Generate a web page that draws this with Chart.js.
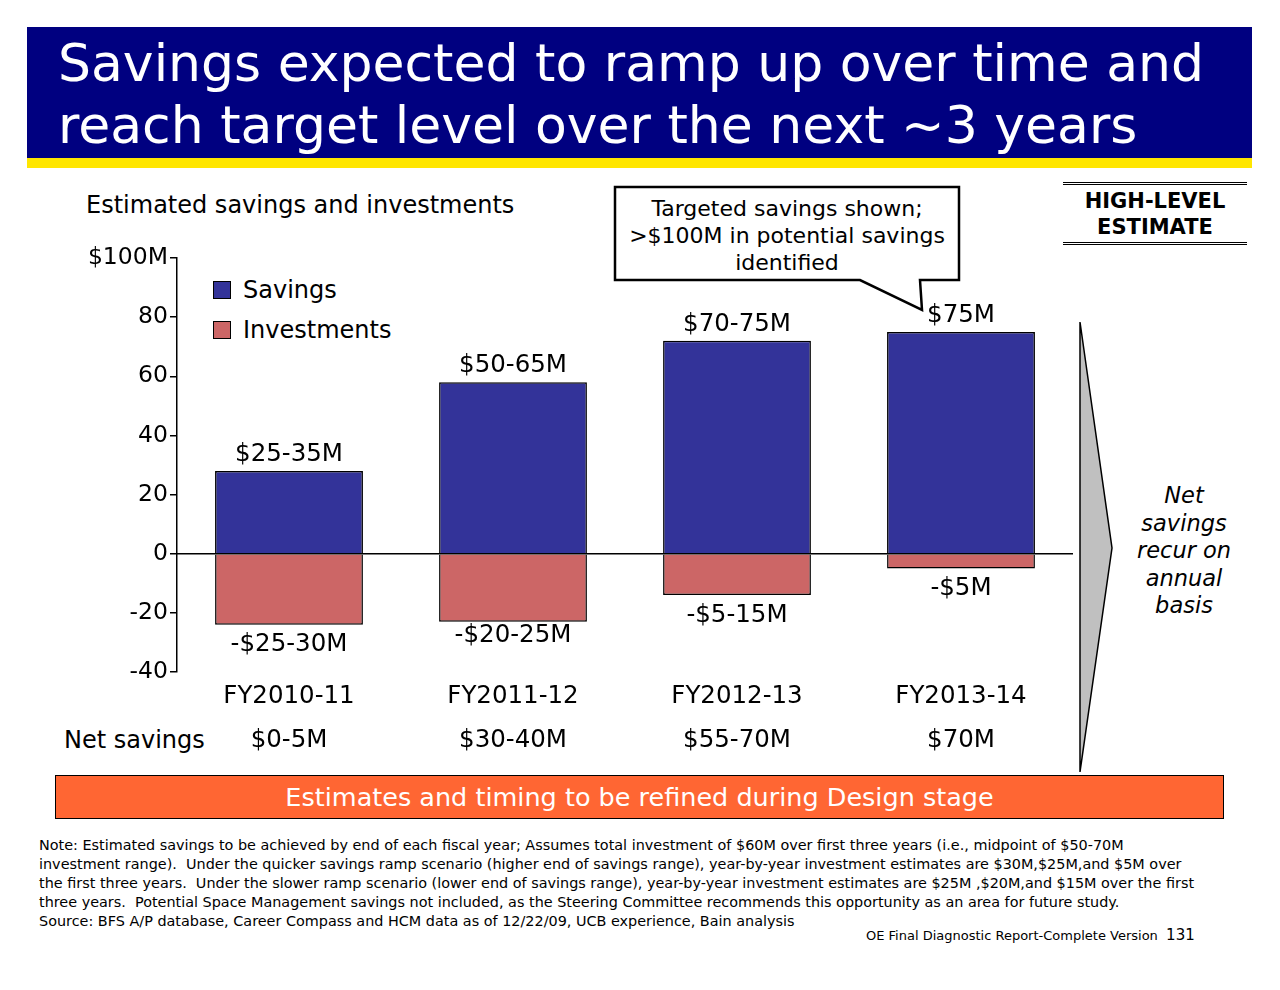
<!DOCTYPE html>
<html><head><meta charset="utf-8">
<script src="https://cdn.jsdelivr.net/npm/chart.js@4"></script>
<style>
body{margin:0;width:1280px;height:990px;background:#fff;font-family:"DejaVu Sans",Verdana,sans-serif;position:relative;overflow:hidden}
.a{position:absolute}
</style></head><body>
<div class="a" style="left:27px;top:27px;width:1225px;height:131px;background:#000080"></div>
<div class="a" style="left:27px;top:158px;width:1225px;height:10px;background:#FFE600"></div>
<div class="a" style="left:58px;top:32px;color:#fff;font-size:52px;line-height:62px;font-family:'DejaVu Sans'">Savings expected to ramp up over time and<br>reach target level over the next ~3 years</div>
<div class="a" style="left:86px;top:191px;font-size:24px">Estimated savings and investments</div>
<div class="a" style="left:1063px;top:182px;width:184px;border-top:3px double #000;border-bottom:3px double #000;text-align:center;font-weight:bold;font-size:21px;line-height:26px;padding:3px 0 2px">HIGH-LEVEL<br>ESTIMATE</div>
<svg class="a" style="left:0;top:0" width="1280" height="990">
<polygon points="615,187 959,187 959,280 920,280 922,310 860,280 615,280" fill="#fff" stroke="#000" stroke-width="2.5"/>
<polygon points="1080,322 1112,548 1080,772" fill="#C0C0C0" stroke="#000" stroke-width="1.5"/>
</svg>
<div class="a" style="left:615px;top:195px;width:344px;text-align:center;font-size:22px;line-height:27px">Targeted savings shown;<br>&gt;$100M in potential savings<br>identified</div>
<div class="a" style="left:1127px;top:482px;width:114px;text-align:center;font-style:italic;font-size:22.5px;line-height:27.5px">Net<br>savings<br>recur on<br>annual<br>basis</div>
<div class="a" style="left:213px;top:270px;font-size:24px;line-height:40px">
<div><span style="display:inline-block;width:16px;height:16px;background:#333399;border:1px solid #000;vertical-align:-1px;margin-right:12px"></span>Savings</div>
<div><span style="display:inline-block;width:16px;height:16px;background:#CC6666;border:1px solid #000;vertical-align:-1px;margin-right:12px"></span>Investments</div>
</div>
<div class="a" style="left:64px;top:726px;font-size:24px">Net savings</div>
<div class="a" style="left:55px;top:775px;width:1167px;height:42px;background:#FF6633;border:1px solid #000;color:#fff;font-size:25.5px;text-align:center;line-height:42px">Estimates and timing to be refined during Design stage</div>
<div class="a" style="left:39px;top:836px;font-size:14.4px;line-height:19px;width:1230px;white-space:nowrap">Note: Estimated savings to be achieved by end of each fiscal year; Assumes total investment of $60M over first three years (i.e., midpoint of $50-70M<br>investment range).&nbsp; Under the quicker savings ramp scenario (higher end of savings range), year-by-year investment estimates are $30M,$25M,and $5M over<br>the first three years.&nbsp; Under the slower ramp scenario (lower end of savings range), year-by-year investment estimates are $25M ,$20M,and $15M over the first<br>three years.&nbsp; Potential Space Management savings not included, as the Steering Committee recommends this opportunity as an area for future study.<br>Source: BFS A/P database, Career Compass and HCM data as of 12/22/09, UCB experience, Bain analysis</div>
<div class="a" style="left:866px;top:926px;font-size:13px">OE Final Diagnostic Report-Complete Version&nbsp; <span style="font-size:15px">131</span></div>
<canvas id="c" class="a" style="left:0;top:0" width="1280" height="990"></canvas>
<script>
const categories=["FY2010-11","FY2011-12","FY2012-13","FY2013-14"];
const savings=[28,58,72,75];
const investments=[-24,-23,-14,-5];
const savingsLabels=["$25-35M","$50-65M","$70-75M","$75M"];
const investLabels=["-$25-30M","-$20-25M","-$5-15M","-$5M"];
const netLabels=["$0-5M","$30-40M","$55-70M","$70M"];
const yTicks=[-40,-20,0,20,40,60,80,100];
const F="'DejaVu Sans',Verdana,sans-serif";
const lbl={id:'lbl',afterDatasetsDraw(ch){
 const c=ch.ctx,x=ch.scales.x,y=ch.scales.y;
 c.save();c.strokeStyle='#000';c.lineWidth=1.5;c.beginPath();c.moveTo(x.left,y.getPixelForValue(0));c.lineTo(x.right,y.getPixelForValue(0));c.stroke();
 c.fillStyle='#000';c.font="24.5px "+F;c.textAlign='center';
 categories.forEach((k,i)=>{const px=x.getPixelForValue(i);
  c.textBaseline='bottom';c.fillText(savingsLabels[i],px,y.getPixelForValue(savings[i])-4);
  c.textBaseline='top';c.fillText(investLabels[i],px,y.getPixelForValue(investments[i])+(i==1?2:8));
  c.textBaseline='middle';c.fillText(netLabels[i],px,741);
 });c.restore();}};
new Chart(document.getElementById('c'),{type:'bar',
 data:{labels:categories,datasets:[
  {label:'Savings',data:savings,backgroundColor:'#333399',borderColor:'#000',borderWidth:1.5,barPercentage:0.66,categoryPercentage:1},
  {label:'Investments',data:investments,backgroundColor:'#CC6666',borderColor:'#000',borderWidth:1.5,barPercentage:0.66,categoryPercentage:1}]},
 options:{responsive:false,animation:false,events:[],
  layout:{padding:{left:0,top:258,right:207,bottom:278}},
  plugins:{legend:{display:false},tooltip:{enabled:false}},
  scales:{
   x:{stacked:true,afterFit(s){s.height=40},grid:{display:false,drawTicks:false},border:{display:false},
      ticks:{color:'#000',font:{size:24.5,family:F},padding:10}},
   y:{stacked:true,min:-40,max:100,afterFit(s){s.width=177},afterBuildTicks(s){s.ticks=yTicks.map(v=>({value:v}))},
      grid:{display:true,drawOnChartArea:false,drawTicks:true,tickLength:7,color:'#000',lineWidth:1.5},border:{display:true,color:'#000',width:1.5},
      ticks:{color:'#000',font:{size:23.5,family:F},padding:2,callback:v=>v==100?'$100M':v}}}},
 plugins:[lbl]});
</script></body></html>
